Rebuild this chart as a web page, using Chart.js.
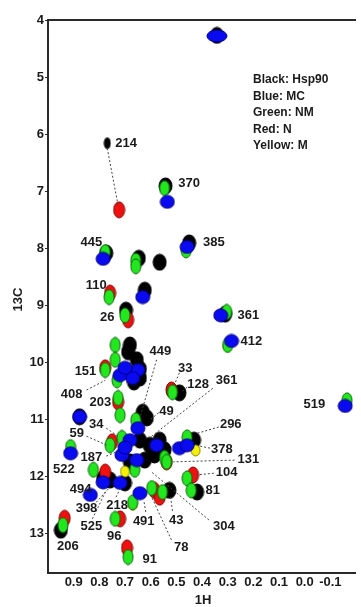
<!DOCTYPE html>
<html>
<head>
<meta charset="utf-8">
<script src="https://cdn.jsdelivr.net/npm/chart.js@4.4.1/dist/chart.umd.min.js"></script>
<style>
  html, body { margin: 0; padding: 0; background: #fff; }
  #wrap { width: 361px; height: 607px; }
</style>
</head>
<body>
<div id="wrap"><canvas id="chart"></canvas></div>
<script>
// peak positions (1H ppm, 13C ppm)
const hsp90H = [0.342, 0.769, 0.542, 0.45, 0.773, 0.646, 0.565, 0.623, 0.696, 0.31, 0.681, 0.688, 0.654, 0.642, 0.642, 0.665, 0.631, 0.615, 0.488, 0.877, 0.642, 0.604, 0.565, 0.585, 0.681, 0.623, 0.546, 0.431, 0.785, 0.758, 0.70, 0.527, 0.419, 0.95];
const hsp90C = [4.27, 6.16, 6.91, 7.91, 8.09, 8.18, 8.25, 8.74, 9.09, 9.16, 9.70, 9.82, 9.96, 10.12, 10.28, 10.35, 10.88, 10.98, 10.54, 10.96, 11.37, 11.46, 11.37, 11.63, 11.75, 11.72, 11.54, 11.37, 12.04, 12.07, 12.12, 12.25, 12.28, 12.95];

const nH = [0.723, 0.758, 0.688, 0.777, 0.727, 0.519, 0.777, 0.585, 0.565, 0.719, 0.935, 0.692, 0.538, 0.435, 0.75];
const nC = [7.33, 8.79, 9.26, 10.10, 10.70, 10.49, 11.93, 12.25, 12.37, 12.75, 12.74, 13.26, 11.75, 11.98, 11.40];

const mH = [0.425, 0.67, 0.30, 0.70];
const mC = [11.55, 12.50, 9.72, 11.92];

const nmH = [0.546, 0.462, 0.777, 0.658, 0.658, 0.762, 0.70, 0.304, 0.30, 0.738, 0.738, 0.731, 0.727, 0.719, 0.777, 0.515, 0.658, -0.165, 0.458, 0.758, 0.912, 0.823, 0.546, 0.662, 0.538, 0.458, 0.442, 0.554, 0.596, 0.67, 0.738, 0.942, 0.688, 0.712];
const nmC = [6.95, 8.04, 8.07, 8.22, 8.32, 8.86, 9.18, 9.12, 9.70, 9.70, 9.96, 10.32, 10.63, 10.93, 10.14, 10.53, 11.02, 10.67, 11.32, 11.46, 11.49, 11.89, 11.68, 11.89, 11.75, 12.04, 12.25, 12.28, 12.21, 12.46, 12.75, 12.86, 13.42, 11.33];

const mcH = [0.342, 0.535, 0.458, 0.785, 0.631, 0.327, 0.285, 0.692, 0.65, 0.719, 0.67, 0.70, 0.877, 0.65, -0.158, 0.912, 0.712, 0.654, 0.577, 0.681, 0.488, 0.458, 0.785, 0.719, 0.835, 0.642, 0.70];
const mcC = [4.28, 7.19, 7.98, 8.19, 8.86, 9.18, 9.63, 10.19, 10.14, 10.23, 10.28, 10.10, 10.96, 11.16, 10.77, 11.60, 11.63, 11.72, 11.46, 11.37, 11.51, 11.46, 12.11, 12.12, 12.33, 12.30, 11.50];

// residue labels: text and where it sits (1H, 13C)
const resNames = ['214', '370', '445', '385', '110', '26', '361', '412', '449', '151', '408', '33', '128', '361', '203', '519', '49', '34', '59', '296', '378', '187', '131', '522', '104', '494', '81', '398', '218', '491', '43', '304', '525', '96', '206', '78', '91'];
const resH = [0.696, 0.45, 0.831, 0.354, 0.812, 0.769, 0.219, 0.208, 0.562, 0.854, 0.908, 0.465, 0.415, 0.304, 0.796, -0.038, 0.538, 0.812, 0.888, 0.288, 0.323, 0.831, 0.219, 0.938, 0.304, 0.873, 0.358, 0.85, 0.731, 0.627, 0.50, 0.315, 0.831, 0.742, 0.923, 0.481, 0.604];
const resC = [6.158, 6.86, 7.91, 7.91, 8.65, 9.21, 9.18, 9.63, 9.82, 10.16, 10.56, 10.11, 10.39, 10.33, 10.70, 10.74, 10.86, 11.09, 11.25, 11.09, 11.53, 11.68, 11.70, 11.88, 11.93, 12.23, 12.25, 12.56, 12.51, 12.79, 12.77, 12.89, 12.89, 13.05, 13.23, 13.26, 13.46];

// dashed leaders from label to peak: [H1, C1, H2, C2]
const leaders = [
  [0.769, 6.25, 0.727, 7.25],
  [0.577, 9.96, 0.642, 10.98],
  [0.85, 10.49, 0.777, 10.32],
  [0.488, 10.19, 0.508, 10.40],
  [0.458, 10.44, 0.481, 10.53],
  [0.358, 10.46, 0.604, 11.33],
  [0.569, 10.89, 0.604, 11.02],
  [0.773, 11.16, 0.727, 11.30],
  [0.85, 11.30, 0.765, 11.47],
  [0.773, 11.65, 0.735, 11.58],
  [0.335, 11.14, 0.419, 11.25],
  [0.369, 11.51, 0.412, 11.47],
  [0.273, 11.72, 0.512, 11.75],
  [0.354, 11.95, 0.423, 11.98],
  [0.373, 12.77, 0.596, 11.93],
  [0.515, 12.61, 0.523, 12.35],
  [0.519, 13.12, 0.596, 12.37],
  [0.619, 12.63, 0.627, 12.42],
  [0.735, 12.37, 0.715, 12.18],
  [0.812, 12.46, 0.758, 12.19],
  [0.827, 12.75, 0.773, 12.25]
];

const legendLines = ['Black: Hsp90', 'Blue: MC', 'Green: NM', 'Red: N', 'Yellow: M'];

const FONT = "'Liberation Sans', Arial, sans-serif";
const INK = '#1a1a1a';

// ellipse sprite used as point style
const spriteCache = {};
function ellipse(fill, edge, w, h) {
  const key = fill + w + 'x' + h;
  if (spriteCache[key]) return spriteCache[key];
  const c = document.createElement('canvas');
  c.width = w + 2; c.height = h + 2;
  const g = c.getContext('2d');
  g.beginPath();
  g.ellipse(c.width / 2, c.height / 2, w / 2, h / 2, 0, 0, Math.PI * 2);
  g.fillStyle = fill;
  g.fill();
  g.lineWidth = 1;
  g.strokeStyle = edge;
  g.stroke();
  spriteCache[key] = c;
  return c;
}

function pts(hs, cs) {
  return hs.map((h, i) => ({ x: h, y: cs[i] }));
}

// a couple of peaks have a different footprint
function footprint(label, i, w, h) {
  if (label === 'MC' && i === 0) return [20, 12];
  if (label === 'Hsp90' && i === 1) return [6, 11];
  return [w, h];
}

function peakSet(label, hs, cs, fill, edge, w, h, order) {
  return {
    label: label,
    data: pts(hs, cs),
    order: order,
    pointStyle: ctx => {
      const f = footprint(label, ctx.dataIndex, w, h);
      return ellipse(fill, edge, f[0], f[1]);
    },
    showLine: false
  };
}

const datasets = [
  peakSet('MC', mcH, mcC, '#0a0af0', '#000080', 14, 13, 1),
  peakSet('NM', nmH, nmC, '#22e61e', '#0a600a', 10, 15, 2),
  peakSet('M', mH, mC, '#f5f000', '#888000', 9, 11, 3),
  peakSet('N', nH, nC, '#f01010', '#800000', 11, 16, 4),
  peakSet('Hsp90', hsp90H, hsp90C, '#000000', '#000000', 13, 16, 5)
];

leaders.forEach(l => {
  datasets.push({
    data: [{ x: l[0], y: l[1] }, { x: l[2], y: l[3] }],
    showLine: true,
    borderColor: '#444',
    borderWidth: 1,
    borderDash: [2, 2],
    pointRadius: 0,
    order: 0
  });
});

const decor = {
  id: 'decor',
  afterDatasetsDraw(chart) {
    const { ctx, chartArea: a, scales: { x, y } } = chart;
    ctx.save();
    // residue numbers
    ctx.fillStyle = INK;
    ctx.font = 'bold 13px ' + FONT;
    ctx.textAlign = 'center';
    ctx.textBaseline = 'middle';
    resNames.forEach((t, i) => {
      ctx.fillText(t, x.getPixelForValue(resH[i]), y.getPixelForValue(resC[i]));
    });
    // sample key
    ctx.font = 'bold 12px ' + FONT;
    ctx.textAlign = 'left';
    legendLines.forEach((t, i) => {
      ctx.fillText(t, a.left + 205, a.top + 60 + i * 16.5);
    });
    // frame
    ctx.strokeStyle = '#2a2a2a';
    ctx.lineWidth = 2;
    ctx.beginPath();
    ctx.moveTo(a.right, a.top);
    ctx.lineTo(a.left, a.top);
    ctx.lineTo(a.left, a.bottom);
    ctx.lineTo(a.right, a.bottom);
    ctx.stroke();
    ctx.lineWidth = 1;
    ctx.beginPath();
    y.ticks.forEach(t => {
      if (Number.isInteger(t.value)) {
        const p = Math.round(y.getPixelForValue(t.value)) + 0.5;
        ctx.moveTo(a.left - 3, p); ctx.lineTo(a.left, p);
      }
    });
    ctx.stroke();
    // axis titles
    ctx.font = 'bold 13px ' + FONT;
    ctx.textAlign = 'center';
    ctx.fillText('1H', (a.left + 356) / 2 + 1, 600);
    ctx.translate(18, (a.top + a.bottom) / 2 + 3);
    ctx.rotate(-Math.PI / 2);
    ctx.fillText('13C', 0, 0);
    ctx.restore();
  }
};

new Chart(document.getElementById('chart'), {
  type: 'scatter',
  data: { datasets: datasets },
  options: {
    responsive: true,
    maintainAspectRatio: false,
    animation: false,
    events: [],
    layout: { padding: { top: 20, right: 0, bottom: 0, left: 0 } },
    plugins: { legend: { display: false }, tooltip: { enabled: false } },
    scales: {
      x: {
        type: 'linear',
        reverse: true,
        min: -0.2,
        max: 1.0,
        border: { display: false },
        grid: { display: false, drawTicks: false },
        afterFit: s => { s.height = 34; },
        ticks: {
          stepSize: 0.1,
          autoSkip: false,
          maxRotation: 0,
          padding: 2,
          color: INK,
          font: { family: FONT, size: 13, weight: 'bold' },
          callback: v => (v > 0.95 || v < -0.15) ? '' : (Math.abs(v) < 1e-9 ? '0.0' : v.toFixed(1))
        }
      },
      y: {
        type: 'linear',
        reverse: true,
        min: 4,
        max: 13.7,
        border: { display: false },
        grid: { display: false, drawTicks: false },
        afterFit: s => { s.width = 48; },
        ticks: {
          stepSize: 1,
          autoSkip: false,
          padding: 4,
          color: INK,
          font: { family: FONT, size: 13, weight: 'bold' },
          callback: v => Number.isInteger(v) ? String(v) : ''
        }
      }
    }
  },
  plugins: [decor]
});
</script>
</body>
</html>
